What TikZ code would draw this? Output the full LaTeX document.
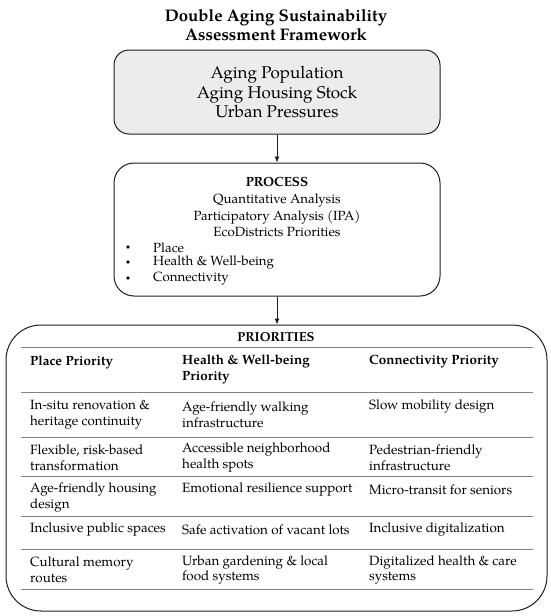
\documentclass[tikz,border=0pt]{standalone}
\usepackage{fontspec}
\setmainfont{TeX Gyre Pagella}
\usetikzlibrary{arrows.meta}
\definecolor{boxgray}{RGB}{236,236,236}
\definecolor{rulegray}{RGB}{130,130,130}
\definecolor{edge}{RGB}{30,30,30}
\begin{document}
\begin{tikzpicture}[x=1pt,y=-1pt,
  frame/.style={draw=edge,line width=1pt},
  titletext/.style={font=\fontsize{16.8}{19.5}\selectfont\bfseries,align=center,inner sep=0},
  srctext/.style={font=\fontsize{17}{19.3}\selectfont,align=center,inner sep=0},
  proctext/.style={font=\fontsize{13.3}{16.2}\selectfont,align=center,inner sep=0},
  bullettext/.style={font=\fontsize{8}{10}\selectfont,anchor=center,inner sep=0},
  cell/.style={font=\fontsize{13.4}{15.8}\selectfont,align=left,anchor=west,inner sep=0},
  headcell/.style={cell,font=\fontsize{13.4}{15.8}\selectfont\bfseries},
  flow/.style={draw=edge,line width=0.9pt,-{Latex[length=6pt,width=5pt]}},
  trule/.style={draw=rulegray,line width=0.7pt}]
\useasboundingbox (0,0) rectangle (550,616);
% title
\node[titletext] (title) at (276,25) {Double Aging Sustainability\\Assessment Framework};
% box 1
\node[frame,fill=boxgray,rounded corners=15pt,minimum width=326pt,minimum height=84pt] (src) at (277,92) {};
\node[srctext] (srct) at (277,92) {Aging Population\\Aging Housing Stock\\Urban Pressures};
% box 2
\node[frame,rounded corners=20pt,minimum width=326pt,minimum height=133pt] (proc) at (277,229.5) {};
\node[proctext,font=\fontsize{13.3}{16.2}\selectfont\bfseries] (ptitle) at (277,182) {PROCESS};
\node[proctext] (pmeth) at (277,215.5) {Quantitative Analysis\\Participatory Analysis (IPA)\\EcoDistricts Priorities};
\node[bullettext] (pb1) at (128,247.5) {•};
\node[bullettext] (pb2) at (128,263) {•};
\node[bullettext] (pb3) at (128,278.5) {•};
\node[proctext,align=left,anchor=west] (pl1) at (153,247.5) {Place};
\node[proctext,align=left,anchor=west] (pl2) at (153,263) {Health \& Well-being};
\node[proctext,align=left,anchor=west] (pl3) at (153,278.5) {Connectivity};
% box 3
\node[frame,rounded corners=35pt,minimum width=541pt,minimum height=286pt] (prio) at (276.5,468) {};
\node[proctext,font=\fontsize{13}{15.6}\selectfont\bfseries] (prt) at (276,337) {PRIORITIES};
% arrows
\draw[flow] (src.south -| srct.south) -- (src.south |- proc.north);
\draw[flow] (proc.south) -- (proc.south |- prio.north);
% table rules
\draw[trule] (21,347) coordinate (r0) -- (533,347);
\draw[trule] (21,392) coordinate (r1) -- (533,392);
\draw[trule] (21,437) coordinate (r2) -- (533,437);
\draw[trule] (21,476) coordinate (r3) -- (533,476);
\draw[trule] (21,516) coordinate (r4) -- (533,516);
\draw[trule] (21,549) coordinate (r5) -- (533,549);
\draw[trule] (21,589) coordinate (r6) -- (533,589);
% header
\node[headcell] (h1) at (30,362) {Place Priority};
\node[headcell] (h2) at (182,369.5) {Health \& Well-being\\Priority};
\node[headcell] (h3) at (369,362) {Connectivity Priority};
% row 1
\node[cell] (c11) at (30,415) {In-situ renovation \&\\heritage continuity};
\node[cell] (c12) at (182,415) {Age-friendly walking\\infrastructure};
\node[cell] (c13) at (369,407) {Slow mobility design};
% row 2
\node[cell] (c21) at (30,457.5) {Flexible, risk-based\\transformation};
\node[cell] (c22) at (182,457.5) {Accessible neighborhood\\health spots};
\node[cell] (c23) at (369,457.5) {Pedestrian-friendly\\infrastructure};
% row 3
\node[cell] (c31) at (30,497.5) {Age-friendly housing\\design};
\node[cell] (c32) at (182,490) {Emotional resilience support};
\node[cell] (c33) at (369,490) {Micro-transit for seniors};
% row 4
\node[cell] (c41) at (30,530) {Inclusive public spaces};
\node[cell] (c42) at (182,530) {Safe activation of vacant lots};
\node[cell] (c43) at (369,530) {Inclusive digitalization};
% row 5
\node[cell] (c51) at (30,570) {Cultural memory\\routes};
\node[cell] (c52) at (182,570) {Urban gardening \& local\\food systems};
\node[cell] (c53) at (369,570) {Digitalized health \& care\\systems};
\end{tikzpicture}
\end{document}
